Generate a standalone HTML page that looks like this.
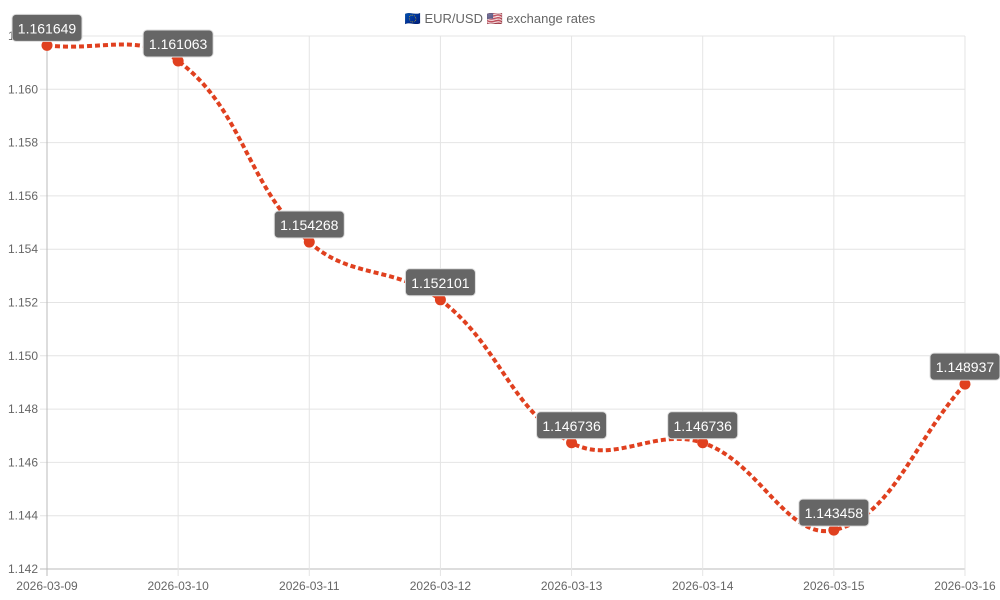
<!DOCTYPE html>
<html><head><meta charset="utf-8"><style>
html,body{margin:0;padding:0;background:#fff;width:1000px;height:600px;overflow:hidden}
svg text{font-family:"Liberation Sans",sans-serif}
</style></head><body>
<svg id="s" width="1000" height="600" xmlns="http://www.w3.org/2000/svg"></svg>
<script>
const s=document.getElementById('s');
const X0=47,DX=131.14,Y0=36,K=26650;
const yv=v=>Y0+(1.162-v)*K;
let h='';
h+='<text x="500" y="23" text-anchor="middle" font-size="13" fill="#666">🇪🇺 EUR/USD 🇺🇸 exchange rates</text>';
for(let i=0;i<=10;i++){const v=1.162-i*0.002,y=Y0+i*53.3;
h+=`<line x1="40" x2="965" y1="${y}" y2="${y}" stroke="${i==10?'#bbb':'#e4e4e4'}"/>`;
h+=`<text x="38" y="${y+4}" text-anchor="end" font-size="12" fill="#666">${v.toFixed(3)}</text>`;}
const dates=['2026-03-09','2026-03-10','2026-03-11','2026-03-12','2026-03-13','2026-03-14','2026-03-15','2026-03-16'];
dates.forEach((d,i)=>{const x=X0+i*DX;
h+=`<line x1="${x}" x2="${x}" y1="${Y0}" y2="576" stroke="${i==0?'#bbb':'#e4e4e4'}"/>`;
h+=`<text x="${x}" y="590" text-anchor="middle" font-size="12" fill="#666">${d}</text>`;});
const vals=[1.161649,1.161063,1.154268,1.152101,1.146736,1.146736,1.143458,1.148937];
const P=vals.map((v,i)=>[X0+i*DX,yv(v)]);
const t=0.4,cp=[];
for(let i=0;i<P.length;i++){const pr=P[i-1]||P[i],c=P[i],nx=P[i+1]||P[i];
const d1=Math.hypot(c[0]-pr[0],c[1]-pr[1]),d2=Math.hypot(nx[0]-c[0],nx[1]-c[1]);
const fa=d1+d2?t*d1/(d1+d2):0,fb=d1+d2?t*d2/(d1+d2):0;
cp.push([[c[0]-fa*(nx[0]-pr[0]),c[1]-fa*(nx[1]-pr[1])],[c[0]+fb*(nx[0]-pr[0]),c[1]+fb*(nx[1]-pr[1])]]);}
let p=`M${P[0][0]},${P[0][1]}`;
for(let i=1;i<P.length;i++){p+=` C${cp[i-1][1][0]},${cp[i-1][1][1]} ${cp[i][0][0]},${cp[i][0][1]} ${P[i][0]},${P[i][1]}`;}
h+=`<path d="${p}" fill="none" stroke="#e0401f" stroke-width="4" stroke-dasharray="5 3"/>`;
P.forEach(q=>h+=`<circle cx="${q[0]}" cy="${q[1]}" r="5.5" fill="#e0401f"/>`);
P.forEach((q,i)=>{h+=`<rect x="${q[0]-35}" y="${q[1]-31}" width="70" height="27" rx="4" fill="#666" stroke="#ddd" stroke-width="1"/>`;
h+=`<text x="${q[0]}" y="${q[1]-12}" text-anchor="middle" font-size="14" fill="#fff">${vals[i].toFixed(6)}</text>`;});
s.innerHTML=h;
</script>
</body></html>
